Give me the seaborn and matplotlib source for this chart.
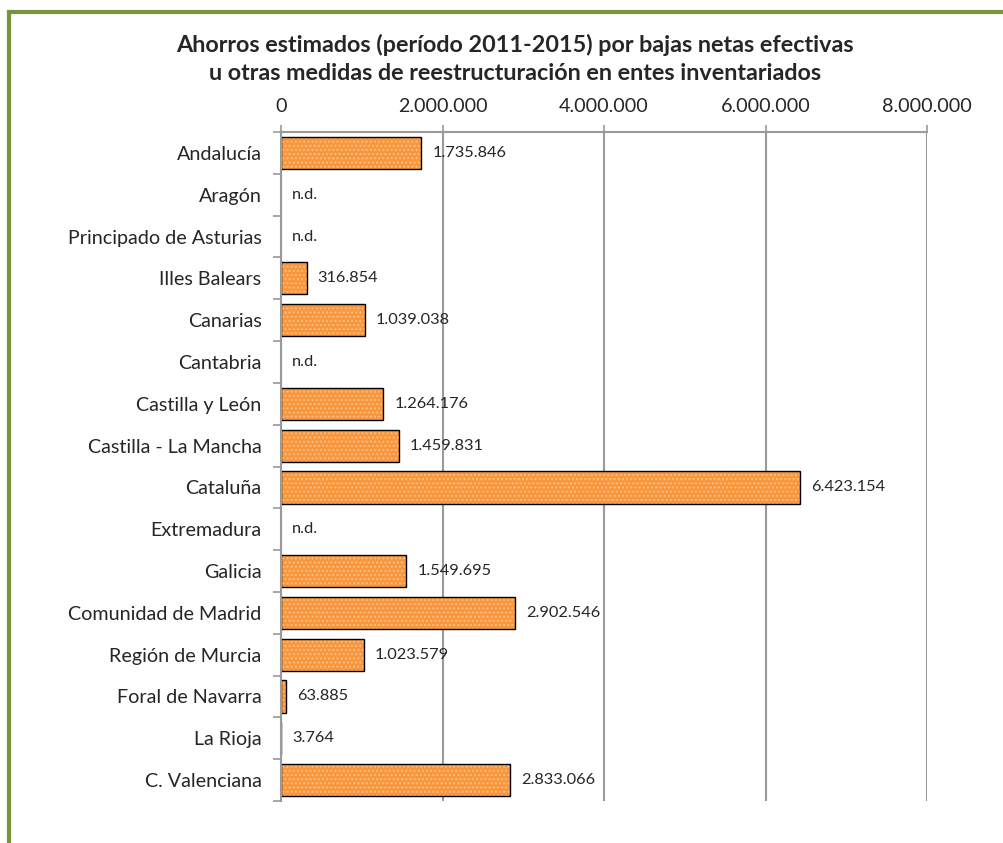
import numpy as np
import pandas as pd
import seaborn as sns
import matplotlib.pyplot as plt
from matplotlib.patches import Rectangle
from matplotlib.ticker import FuncFormatter, MultipleLocator

# Datos (NaN = n.d.)
regions = [
    'Andalucía', 'Aragón', 'Principado de Asturias', 'Illes Balears',
    'Canarias', 'Cantabria', 'Castilla y León', 'Castilla - La Mancha',
    'Cataluña', 'Extremadura', 'Galicia', 'Comunidad de Madrid',
    'Región de Murcia', 'Foral de Navarra', 'La Rioja', 'C. Valenciana',
]
savings = [
    1735846, np.nan, np.nan, 316854, 1039038, np.nan, 1264176, 1459831,
    6423154, np.nan, 1549695, 2902546, 1023579, 63885, 3764, 2833066,
]
value_labels = [
    '1.735.846', 'n.d.', 'n.d.', '316.854', '1.039.038', 'n.d.', '1.264.176',
    '1.459.831', '6.423.154', 'n.d.', '1.549.695', '2.902.546', '1.023.579',
    '63.885', '3.764', '2.833.066',
]
title = ('Ahorros estimados (período 2011-2015) por bajas netas efectivas\n'
         'u otras medidas de reestructuración en entes inventariados')

df = pd.DataFrame({'region': regions, 'ahorro': savings})

sns.set_style('white')
plt.rcParams['font.family'] = ['Lato', 'DejaVu Sans']

fig = plt.figure(figsize=(10.04, 8.43), dpi=100)
ax = fig.add_axes([0.2799, 0.0498, 0.6435, 0.7936])

# Relleno punteado y luego el contorno negro
sns.barplot(data=df, x='ahorro', y='region', order=regions, orient='h',
            color='#F7963C', saturation=1, width=0.77, hatch='....',
            edgecolor='#FBBE80', linewidth=0, ax=ax)
sns.barplot(data=df, x='ahorro', y='region', order=regions, orient='h',
            fill=False, width=0.77, edgecolor='black', linewidth=1.0, ax=ax)

ax.set_xlim(0, 8000000)
ax.set_ylim(len(regions) - 0.5, -0.5)
ax.xaxis.set_major_locator(MultipleLocator(2000000))
ax.xaxis.set_major_formatter(
    FuncFormatter(lambda v, _: f'{int(v):,}'.replace(',', '.')))
ax.xaxis.tick_top()
ax.grid(axis='x', color='#9A9A9A', linewidth=1.5)
ax.set_axisbelow(True)

ax.tick_params(axis='x', which='major', top=True, direction='out', length=5,
               color='#9A9A9A', width=1.2, labelsize=14.2, pad=7)
ax.set_yticks(np.arange(-0.5, len(regions), 1), minor=True)
ax.tick_params(axis='y', which='minor', left=True, direction='out', length=6,
               color='#9A9A9A', width=1.2)
ax.tick_params(axis='y', which='major', left=False, labelsize=14.2, pad=10.5)
ax.set_xlabel('')
ax.set_ylabel('')

for side in ['right', 'bottom']:
    ax.spines[side].set_visible(False)
for side in ['left', 'top']:
    ax.spines[side].set_color('#9A9A9A')
    ax.spines[side].set_linewidth(1.5)

for i, (val, lab) in enumerate(zip(savings, value_labels)):
    xpos = 0 if np.isnan(val) else val
    ax.annotate(lab, (xpos, i), xytext=(8, 0), textcoords='offset points',
                ha='left', va='center', fontsize=11.8)

fig.text(0.513, 0.930, title, ha='center', va='center', fontsize=16.8,
         fontweight='bold', linespacing=1.4)

# Marco verde
fig.patches.append(Rectangle((9 / 1004, -0.05), 1.05, 1 - 12 / 843 + 0.05,
                             transform=fig.transFigure, fill=False,
                             edgecolor='#77933C', linewidth=3))

fig.savefig('out.png', dpi=100)
